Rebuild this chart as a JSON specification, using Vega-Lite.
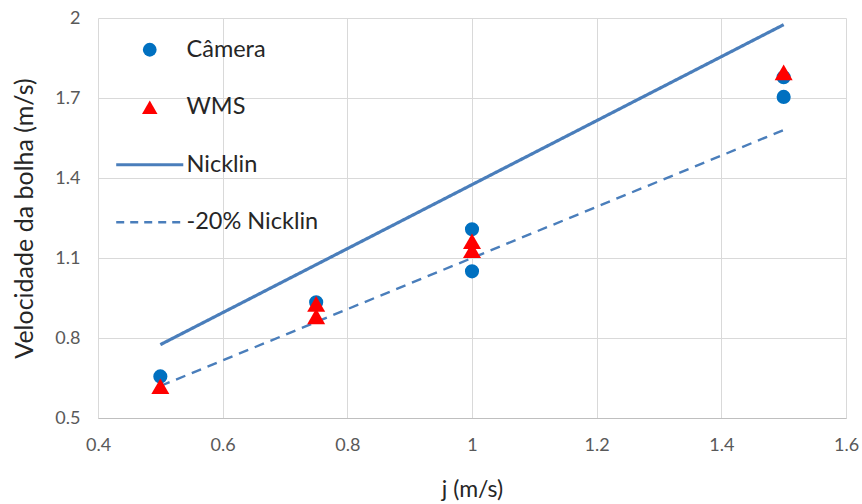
{
  "$schema": "https://vega.github.io/schema/vega-lite/v6.json",
  "width": 748,
  "height": 400,
  "autosize": {"type": "none"},
  "padding": {"left": 98, "top": 18, "right": 16, "bottom": 86},
  "background": "white",
  "config": {
    "font": "Lato",
    "view": {"stroke": null},
    "axis": {
      "grid": true,
      "gridColor": "#D9D9D9",
      "gridWidth": 1,
      "ticks": false,
      "labelColor": "#595959",
      "labelFontSize": 18,
      "labelFont": "Lato",
      "labelFlush": false,
      "labelOverlap": false,
      "titleFont": "Lato",
      "titleFontWeight": "normal",
      "titleColor": "#262626"
    }
  },
  "datasets": {
    "medidas": [
      {"serie": "Câmera", "j": 0.5, "v": 0.656},
      {"serie": "Câmera", "j": 0.75, "v": 0.934},
      {"serie": "Câmera", "j": 1.0, "v": 1.208},
      {"serie": "Câmera", "j": 1.0, "v": 1.05},
      {"serie": "Câmera", "j": 1.5, "v": 1.704},
      {"serie": "Câmera", "j": 1.5, "v": 1.778},
      {"serie": "WMS", "j": 0.5, "v": 0.619},
      {"serie": "WMS", "j": 0.75, "v": 0.928},
      {"serie": "WMS", "j": 0.75, "v": 0.881},
      {"serie": "WMS", "j": 1.0, "v": 1.163},
      {"serie": "WMS", "j": 1.0, "v": 1.129},
      {"serie": "WMS", "j": 1.5, "v": 1.796}
    ],
    "modelos": [
      {"serie": "Nicklin", "j": 0.5, "v": 0.775},
      {"serie": "Nicklin", "j": 0.75, "v": 1.075},
      {"serie": "Nicklin", "j": 1.0, "v": 1.375},
      {"serie": "Nicklin", "j": 1.5, "v": 1.975},
      {"serie": "-20% Nicklin", "j": 0.5, "v": 0.62},
      {"serie": "-20% Nicklin", "j": 0.75, "v": 0.86},
      {"serie": "-20% Nicklin", "j": 1.0, "v": 1.1},
      {"serie": "-20% Nicklin", "j": 1.5, "v": 1.58}
    ]
  },
  "encoding": {
    "x": {
      "field": "j",
      "type": "quantitative",
      "scale": {"domain": [0.4, 1.6], "nice": false, "zero": false},
      "axis": {
        "title": "j (m/s)",
        "titleFontSize": 23,
        "values": [0.4, 0.6, 0.8, 1.0, 1.2, 1.4, 1.6],
        "format": "~g",
        "domain": true,
        "domainColor": "#BFBFBF",
        "domainWidth": 1,
        "labelPadding": 18,
        "titlePadding": 24
      }
    },
    "y": {
      "field": "v",
      "type": "quantitative",
      "scale": {"domain": [0.5, 2], "nice": false, "zero": false},
      "axis": {
        "title": "Velocidade da bolha (m/s)",
        "titleFontSize": 25,
        "values": [0.5, 0.8, 1.1, 1.4, 1.7, 2],
        "format": "~g",
        "domain": false,
        "labelPadding": 18,
        "titlePadding": 17
      }
    },
    "color": {
      "field": "serie",
      "type": "nominal",
      "scale": {
        "domain": ["Câmera", "WMS", "Nicklin", "-20% Nicklin"],
        "range": ["#0070C0", "#FF0000", "#4A7EBB", "#4A7EBB"]
      },
      "legend": {
        "title": null,
        "orient": "none",
        "legendX": 40,
        "legendY": 20,
        "padding": 0,
        "symbolSize": 1600,
        "symbolOffset": 0,
        "labelOffset": 25,
        "rowPadding": 32.5,
        "labelFont": "Lato",
        "labelFontSize": 23.5,
        "labelColor": "#262626",
        "encode": {
          "symbols": {
            "update": {
              "shape": {"signal": "datum.value === 'Câmera' ? 'circle' : datum.value === 'WMS' ? 'triangle-up' : 'stroke'"},
              "size": {"signal": "datum.value === 'Câmera' ? 190 : datum.value === 'WMS' ? 240 : 4500"},
              "fill": {"scale": "color", "field": "value"},
              "stroke": {"scale": "color", "field": "value"},
              "strokeWidth": {"signal": "datum.value === 'Câmera' || datum.value === 'WMS' ? 0 : datum.value === 'Nicklin' ? 3.2 : 2.4"},
              "strokeDash": {"signal": "datum.value === '-20% Nicklin' ? [8, 6] : [1, 0]"},
              "opacity": {"value": 1}
            }
          }
        }
      }
    }
  },
  "layer": [
    {
      "data": {"name": "modelos"},
      "mark": {"type": "line", "strokeCap": "butt"},
      "encoding": {
        "strokeDash": {
          "field": "serie",
          "type": "nominal",
          "scale": {"domain": ["Nicklin", "-20% Nicklin"], "range": [[1, 0], [10, 7]]},
          "legend": null
        },
        "strokeWidth": {
          "field": "serie",
          "type": "nominal",
          "scale": {"domain": ["Nicklin", "-20% Nicklin"], "range": [3.2, 2.4]},
          "legend": null
        }
      }
    },
    {
      "data": {"name": "medidas"},
      "mark": {"type": "point", "filled": true, "opacity": 1, "strokeWidth": 0},
      "encoding": {
        "shape": {
          "field": "serie",
          "type": "nominal",
          "scale": {"domain": ["Câmera", "WMS"], "range": ["circle", "triangle-up"]},
          "legend": null
        },
        "size": {
          "field": "serie",
          "type": "nominal",
          "scale": {"domain": ["Câmera", "WMS"], "range": [200, 324]},
          "legend": null
        }
      }
    }
  ]
}
